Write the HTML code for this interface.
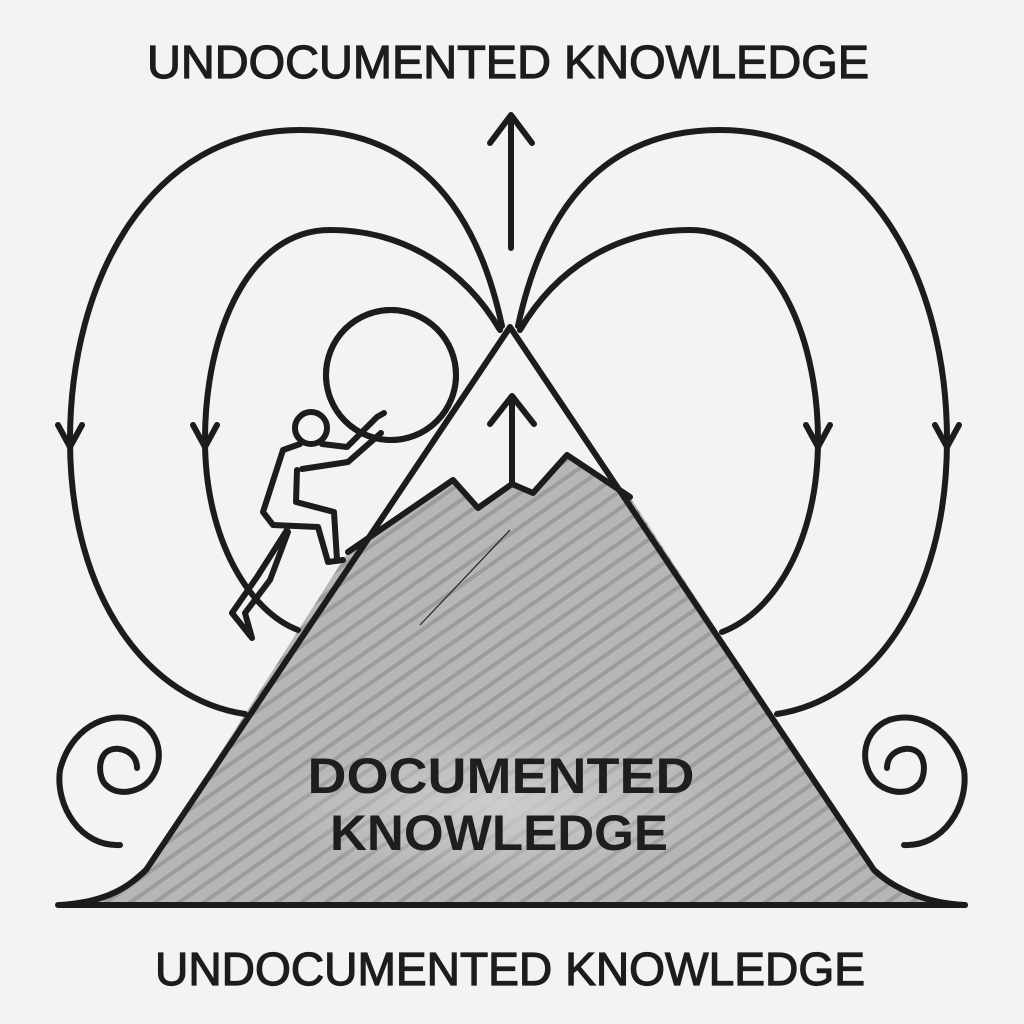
<!DOCTYPE html>
<html><head><meta charset="utf-8"><style>html,body{margin:0;padding:0;background:#f3f3f2}svg{display:block}</style></head>
<body>
<svg width="1024" height="1024" viewBox="0 0 1024 1024" xmlns="http://www.w3.org/2000/svg">
<defs>
<pattern id="st" width="14" height="14" patternUnits="userSpaceOnUse" patternTransform="rotate(-35)">
<rect width="14" height="14" fill="#b6b6b6"/>
<rect width="14" height="4" fill="#9c9c9c"/>
</pattern>
<radialGradient id="glow" cx="0.5" cy="0.5" r="0.5">
<stop offset="0" stop-color="#d0d0d0" stop-opacity="0.9"/>
<stop offset="1" stop-color="#d0d0d0" stop-opacity="0"/>
</radialGradient>
</defs>
<rect width="1024" height="1024" fill="#f3f3f2"/>
<g font-family="Liberation Sans, sans-serif" fill="#1c1c1c" text-anchor="middle">
<text x="508" y="78" font-size="46" textLength="722" lengthAdjust="spacingAndGlyphs" stroke="#1c1c1c" stroke-width="1.2">UNDOCUMENTED KNOWLEDGE</text>
<text x="510" y="985" font-size="46" textLength="710" lengthAdjust="spacingAndGlyphs" stroke="#1c1c1c" stroke-width="1.2">UNDOCUMENTED KNOWLEDGE</text>
</g>
<path d="M58,905 C110,900 130,880 146,870 L348,552 L453,480 L478,508 L512,484 L533,493 L567,455 L630,497 L874,870 C890,885 920,903 965,905 Z" fill="url(#st)"/>
<ellipse cx="500" cy="805" rx="230" ry="75" fill="url(#glow)"/>
<g fill="none" stroke="#1c1c1c" stroke-width="6" stroke-linecap="round" stroke-linejoin="round">
<path d="M58,905 L965,905"/>
<path d="M60,905 C110,902 130,885 146,870 L510,327 L874,870 C890,885 920,903 965,905"/>
<path d="M348,552 L453,480 L478,508 L512,484 L533,493 L567,455 L630,497"/>
<path d="M511,248 V117 M490,143 L511,115 L532,143"/>
<path d="M512,484 V398 M490,424 L512,396 L534,424"/>
<path d="M502,326 C475,200 410,130 300,130 C150,130 70,280 70,440 C70,600 150,700 245,714"/>
<path d="M500,330 C465,270 405,230 330,230 C250,230 205,330 205,440 C205,540 250,612 298,630"/>
<path d="M518,326 C545,200 610,130 720,130 C870,130 947,280 947,440 C947,600 870,700 777,714"/>
<path d="M520,330 C555,270 615,230 690,230 C770,230 818,330 818,440 C818,540 775,612 722,632"/>
<path d="M58,425 L70,447 L82,425 M193,425 L205,447 L217,425 M806,425 L818,447 L830,425 M935,425 L947,447 L959,425"/>
<path d="M137,768 C137,752 120,746 110,750 C97,755 98,778 106,785 C118,797 140,792 150,780 C166,760 160,730 135,720 C105,710 70,730 60,770 C55,805 80,847 120,845"/>
<path d="M887,768 C887,752 904,746 914,750 C927,755 926,778 918,785 C906,797 884,792 874,780 C858,760 864,730 889,720 C919,710 954,730 964,770 C969,805 944,847 904,845"/>
<circle cx="391" cy="375" r="65" fill="#f3f3f2"/>
<circle cx="311" cy="428" r="16" fill="#f3f3f2"/>
<path d="M300,444 L283,450 L263,512 L273,525 L318,527 L328,562 L343,560"/>
<path d="M322,444 L347,447 L377,417 L384,413"/>
<path d="M302,469 L348,462 L381,433"/>
<path d="M297,470 L296,502 L334,512 L337,560"/>
<path d="M287,530 L257,577 L232,613 L252,638 L245,613 L270,580 L288,532"/>
</g>
<path d="M437,330 A65,65 0 0 1 405,438 A62,62 0 0 0 437,330 Z" fill="#aaa"/>
<circle cx="391" cy="375" r="65" fill="none" stroke="#1c1c1c" stroke-width="6"/>
<path d="M420,625 L510,530" stroke="#222" stroke-width="1.2"/>
<g font-family="Liberation Sans, sans-serif" font-weight="bold" fill="#1e1e1e" text-anchor="middle" font-size="50">
<text x="501" y="793" textLength="387" lengthAdjust="spacingAndGlyphs">DOCUMENTED</text>
<text x="499" y="850" textLength="338" lengthAdjust="spacingAndGlyphs">KNOWLEDGE</text>
</g>
</svg>
</body></html>
